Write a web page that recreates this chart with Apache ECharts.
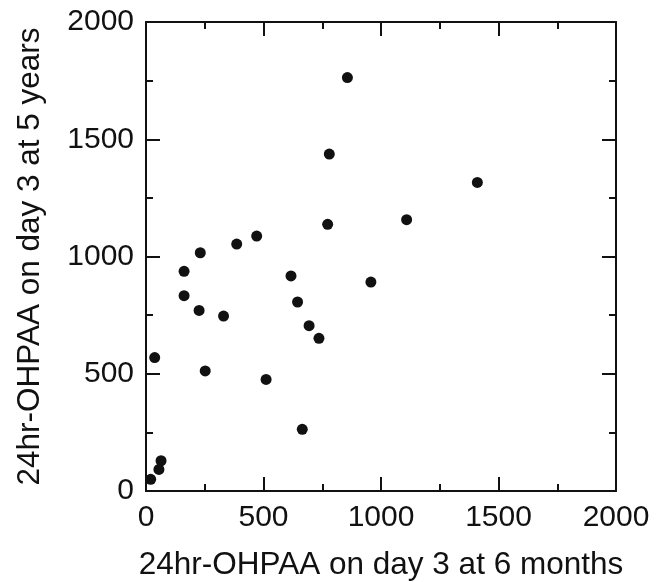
<!DOCTYPE html>
<html>
<head>
<meta charset="utf-8">
<script src="https://cdn.jsdelivr.net/npm/echarts@6/dist/echarts.min.js"></script>
<style>
html, body { margin: 0; padding: 0; background: #fff; }
#chart { width: 657px; height: 582px; }
</style>
</head>
<body>
<div id="chart"></div>
<script>
// values
const sixMonths = [857, 780, 1410, 1109, 773, 471, 386, 231, 162, 617, 957, 162,
  645, 226, 330, 694, 736, 37, 252, 511, 665, 64, 55, 20];
const fiveYears = [1763, 1437, 1316, 1157, 1137, 1087, 1053, 1016, 937, 917, 891, 833,
  806, 770, 746, 705, 651, 569, 512, 476, 263, 129, 92, 50];
const axisMin = 0;
const axisMax = 2000;
const axisStep = 500;

const xTitle = '24hr-OHPAA on day 3 at 6 months';
const yTitle = '24hr-OHPAA on day 3 at 5 years';

const points = sixMonths.map((x, i) => [x, fiveYears[i]]);

const font = 'Liberation Sans, Arial, Helvetica, sans-serif';
const ink = '#111';

// one axis builder; top/right copies only draw the frame and the inward ticks
function axis (pos, labelled) {
  return {
    type: 'value',
    position: pos,
    min: axisMin,
    max: axisMax,
    interval: axisStep,
    splitLine: { show: false },
    axisLine: { show: true, onZero: false, lineStyle: { color: ink, width: 2 } },
    axisTick: { show: true, inside: true, length: 14, lineStyle: { color: ink, width: 2 } },
    minorTick: { show: true, splitNumber: 2, length: 7, lineStyle: { color: ink, width: 2 } },
    axisLabel: {
      show: labelled,
      color: ink,
      fontFamily: font,
      fontSize: 30,
      margin: 12,
      formatter: v => String(v)
    }
  };
}

const titleStyle = { color: ink, fontFamily: font, fontSize: 31.5 };

const xBottom = axis('bottom', true);
xBottom.name = xTitle;
xBottom.nameLocation = 'middle';
xBottom.nameGap = 58;
xBottom.nameTextStyle = titleStyle;

const yLeft = axis('left', true);
yLeft.name = yTitle;
yLeft.nameLocation = 'middle';
yLeft.nameGap = 100;
yLeft.nameTextStyle = titleStyle;

const chart = echarts.init(document.getElementById('chart'));
chart.setOption({
  animation: false,
  backgroundColor: '#fff',
  grid: {
    left: 146,
    right: 41,
    top: 22,
    bottom: 91,
    containLabel: false,
    outerBoundsMode: 'none'
  },
  xAxis: [xBottom, axis('top', false)],
  yAxis: [yLeft, axis('right', false)],
  series: [{
    type: 'scatter',
    xAxisIndex: 0,
    yAxisIndex: 0,
    symbol: 'circle',
    symbolSize: 11,
    itemStyle: { color: '#111', opacity: 1 },
    data: points
  }]
});
</script>
</body>
</html>
